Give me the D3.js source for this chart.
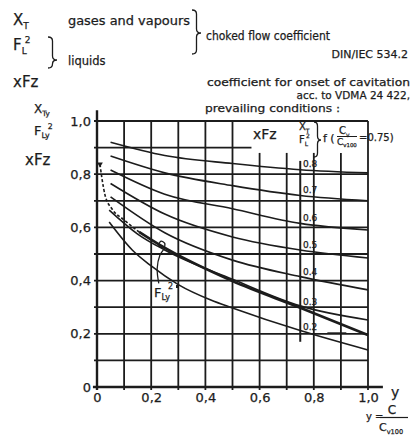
<!DOCTYPE html>
<html><head><meta charset="utf-8">
<script src="https://cdn.jsdelivr.net/npm/d3@7"></script>
<style>
body{margin:0;background:#fff}
svg{display:block}
text{font-family:"DejaVu Sans",sans-serif;fill:#1c1c1c;stroke:#1c1c1c;stroke-width:0.25}
</style>
</head><body>
<svg id="c" width="420" height="437"></svg>
<script>
// ---------- data ----------
const xTickValues = [0, 0.2, 0.4, 0.6, 0.8, 1.0];
const xTickLabels = ["0", "0,2", "0,4", "0,6", "0,8", "1,0"];
const yTickValues = [0, 0.2, 0.4, 0.6, 0.8, 1.0];
const yTickLabels = ["0", "0,2", "0,4", "0,6", "0,8", "1,0"];
const gridValues = [0, 0.1, 0.2, 0.3, 0.4, 0.5, 0.6, 0.7, 0.8, 0.9, 1.0];
const curveNames = ["0.8", "0.7", "0.6", "0.5", "0.4", "0.3", "0.2"];
const curve08 = [[0.05,0.92],[0.25,0.87],[0.5,0.84],[0.75,0.817],[1.0,0.805]];
const curve07 = [[0.05,0.868],[0.25,0.805],[0.5,0.757],[0.75,0.72],[1.0,0.70]];
const curve06 = [[0.05,0.816],[0.25,0.725],[0.5,0.67],[0.75,0.615],[1.0,0.59]];
const curve05 = [[0.05,0.765],[0.25,0.65],[0.5,0.564],[0.75,0.515],[1.0,0.485]];
const curve04 = [[0.05,0.715],[0.25,0.58],[0.5,0.477],[0.75,0.415],[1.0,0.365]];
const curve03 = [[0.045,0.665],[0.15,0.575],[0.25,0.515],[0.5,0.405],[0.75,0.305],[1.0,0.252]];
const curve02 = [[0.045,0.62],[0.13,0.515],[0.2,0.455],[0.3,0.385],[0.42,0.327],[0.5,0.297],[0.75,0.212],[1.0,0.139]];
const curveFL2 = [[0.011,0.838],[0.018,0.786],[0.03,0.72],[0.055,0.67],[0.1,0.628],[0.155,0.583],[0.23,0.535],[0.5,0.398],[0.75,0.298],[1.0,0.195]];
const fl2DottedEnd = 0.155;
const curveSets = [curve08, curve07, curve06, curve05, curve04, curve03, curve02];
const labelX = 0.76;

// ---------- scales ----------
const svg = d3.select("#c");
const x = d3.scaleLinear().domain([0,1]).range([97,368]);
const y = d3.scaleLinear().domain([0,1]).range([387,121]);
const ink = "#1c1c1c";

// ---------- grid ----------
const g = svg.append("g").attr("stroke", ink).attr("stroke-width", 1.8).attr("fill","none");
gridValues.filter(v => v > 0).forEach(v => {
  g.append("line").attr("x1", x(0) - 3).attr("x2", v === 0.9 ? x(0.57) : x(1))
    .attr("y1", y(v)).attr("y2", y(v));
  g.append("line").attr("x1", x(v)).attr("x2", x(v))
    .attr("y1", y(0) + 3).attr("y2", (v > 0.55 && v < 0.95) ? y(0.88) : y(1));
});
g.append("line").attr("x1", x(0)).attr("x2", x(0)).attr("y1", y(0)+3).attr("y2", y(1.04)).attr("stroke-width",2.4);
g.append("line").attr("x1", x(-0.015)).attr("x2", x(1.055)).attr("y1", y(0)).attr("y2", y(0)).attr("stroke-width",2.4);
g.append("line").attr("x1", x(0.75)).attr("x2", x(0.75)).attr("y1", y(0.85)).attr("y2", y(0.17)).attr("stroke-width",2);
g.append("line").attr("x1", x(0.85)).attr("x2", x(0.92)).attr("y1", y(0.203)).attr("y2", y(0.203)).attr("stroke-width",1.4);

// ---------- tick labels ----------
const ya = svg.append("g").attr("transform", `translate(${x(0)},0)`)
  .call(d3.axisLeft(y).tickValues(yTickValues).tickFormat((d,i)=>yTickLabels[i]).tickSize(0).tickPadding(6));
ya.select(".domain").remove();
ya.selectAll("text").attr("font-family","DejaVu Sans").attr("font-size",13).attr("fill",ink);
const xa = svg.append("g").attr("transform", `translate(0,${y(0)})`)
  .call(d3.axisBottom(x).tickValues(xTickValues).tickFormat((d,i)=>xTickLabels[i]).tickSize(0).tickPadding(6));
xa.select(".domain").remove();
xa.selectAll("text").attr("font-family","DejaVu Sans").attr("font-size",13).attr("fill",ink);

// ---------- curves ----------
const line = d3.line().x(d => x(d[0])).y(d => y(d[1])).curve(d3.curveMonotoneX);
const cg = svg.append("g").attr("fill","none").attr("stroke", ink);
curveSets.forEach(c => cg.append("path").attr("d", line(c)).attr("stroke-width", 1.6));
cg.append("path").attr("d", line(curveFL2.filter(d => d[0] <= fl2DottedEnd)))
  .attr("stroke-width", 1.6).attr("stroke-dasharray","3,2");
cg.append("path").attr("d", line(curveFL2.filter(d => d[0] >= fl2DottedEnd)))
  .attr("stroke-width", 2.6);
svg.append("path").attr("d", d3.symbol().type(d3.symbolTriangle).size(14)())
  .attr("transform", `translate(${x(curveFL2[0][0])},${y(curveFL2[0][1])}) rotate(180)`).attr("fill", ink);

curveSets.forEach((c, i) => {
  const yy = d3.scaleLinear().domain(c.map(d=>d[0])).range(c.map(d=>d[1]))(labelX+0.02);
  svg.append("text").attr("x", x(labelX)).attr("y", y(yy) - 3)
    .attr("font-size", 9).text(curveNames[i]);
});

// F_Ly^2 hook annotation
const hook = [[0.228,0.39],[0.222,0.445],[0.232,0.495],[0.247,0.52],[0.25,0.54],[0.236,0.548],[0.228,0.532],[0.243,0.522]];
svg.append("path").attr("d", d3.line().x(d=>x(d[0])).y(d=>y(d[1])).curve(d3.curveCatmullRom)(hook))
  .attr("fill","none").attr("stroke",ink).attr("stroke-width",1.3);
const fl = svg.append("text").attr("x", 154).attr("y", 297).attr("font-size", 13);
fl.append("tspan").text("F");
fl.append("tspan").attr("font-size",8).attr("dy",3).text("Ly");
fl.append("tspan").attr("font-size",8).attr("dy",-11).attr("dx",-2).text("2");
svg.append("rect").attr("x",176).attr("y",285).attr("width",3).attr("height",3).attr("fill",ink);

// ---------- braces ----------
function brace(x0, y0, y1, tip, w){
  const h = w/2;
  return `M${x0},${y0} Q${x0+h},${y0} ${x0+h},${y0+4} L${x0+h},${tip-4} Q${x0+h},${tip} ${x0+w},${tip} `+
         `Q${x0+h},${tip} ${x0+h},${tip+4} L${x0+h},${y1-4} Q${x0+h},${y1} ${x0},${y1}`;
}
const bg = svg.append("g").attr("fill","none").attr("stroke",ink).attr("stroke-width",1.3);
bg.append("path").attr("d", brace(192, 10, 54, 33, 9));
bg.append("path").attr("d", brace(48, 37, 68, 60, 9));
bg.append("path").attr("d", brace(314, 122, 157, 140, 7));

// ---------- header texts ----------
function sub(x0, y0, main, s, sup, fs){
  const e = svg.append("text").attr("x",x0).attr("y",y0).attr("font-size",fs);
  e.append("tspan").text(main);
  if (s) e.append("tspan").attr("font-size", fs*0.6).attr("dy", fs*0.25).text(s);
  if (sup) e.append("tspan").attr("font-size", fs*0.6).attr("dy", -fs*0.75).attr("dx",-2).text(sup);
  return e;
}
sub(13, 25, "X", "T", null, 15);
sub(13, 50, "F", "L", "2", 15);
svg.append("text").attr("x",13).attr("y",87).attr("font-size",15).text("xFz");
svg.append("text").attr("x",68).attr("y",25).attr("font-size",11.5).attr("textLength",122).attr("lengthAdjust","spacingAndGlyphs").text("gases and vapours");
svg.append("text").attr("x",68).attr("y",65).attr("font-size",11.5).text("liquids");
svg.append("text").attr("x",206).attr("y",40).attr("font-size",11.5).attr("textLength",124).attr("lengthAdjust","spacingAndGlyphs").text("choked flow coefficient");
svg.append("text").attr("x",408).attr("y",58).attr("font-size",11).attr("text-anchor","end").text("DIN/IEC 534.2");
svg.append("text").attr("x",207).attr("y",86).attr("font-size",10.5).attr("textLength",203).attr("lengthAdjust","spacingAndGlyphs").text("coefficient for onset of cavitation");
svg.append("text").attr("x",410).attr("y",99).attr("font-size",10.5).attr("text-anchor","end").text("acc. to VDMA 24 422,");
svg.append("text").attr("x",205).attr("y",112).attr("font-size",10.5).attr("textLength",135).attr("lengthAdjust","spacingAndGlyphs").text("prevailing conditions :");

// y-axis title stack
sub(34, 113, "X", "Ty", null, 12);
sub(34, 135, "F", "Ly", "2", 13);
svg.append("text").attr("x",25).attr("y",165).attr("font-size",15).text("xFz");

// legend in plot
svg.append("text").attr("x",253).attr("y",139).attr("font-size",14).text("xFz");
sub(299, 130, "X", "T", null, 10);
sub(299, 143, "F", "L", "2", 10);
svg.append("text").attr("x",323).attr("y",142).attr("font-size",11).text("f (");
sub(339, 134, "C", "v", null, 10);
svg.append("line").attr("x1",337).attr("x2",357).attr("y1",136.5).attr("y2",136.5).attr("stroke",ink).attr("stroke-width",1);
sub(337, 145, "C", "v100", null, 9);
svg.append("text").attr("x",359).attr("y",141).attr("font-size",10).text("=0.75)");

// x-axis title
svg.append("text").attr("x",391).attr("y",397).attr("font-size",14).text("y");
svg.append("text").attr("x",366).attr("y",420).attr("font-size",10).text("y =");
svg.append("text").attr("x",392).attr("y",414).attr("font-size",12).attr("text-anchor","middle").text("C");
svg.append("line").attr("x1",380).attr("x2",408).attr("y1",417.5).attr("y2",417.5).attr("stroke",ink).attr("stroke-width",1.2);
sub(379, 431, "C", "v100", null, 11);
</script>
</body></html>
